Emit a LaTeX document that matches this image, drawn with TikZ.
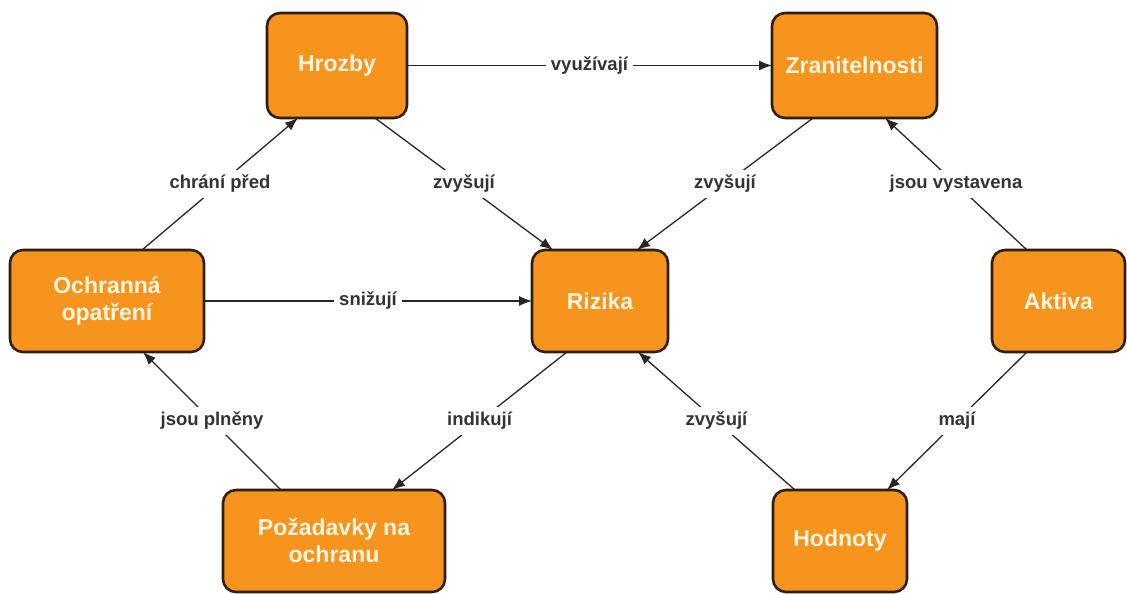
\documentclass[tikz,border=0pt]{standalone}
\usepackage{fontspec}
\setmainfont{Liberation Sans}
\usetikzlibrary{arrows.meta}
\definecolor{boxfill}{HTML}{F7941D}
\definecolor{boxline}{HTML}{2E1E0A}
\definecolor{boxtext}{HTML}{FFF6E2}
\definecolor{linecol}{HTML}{262626}
\definecolor{labcol}{HTML}{333333}
\tikzset{
  box/.style={draw=boxline, line width=2.6pt, fill=boxfill, rounded corners=13pt,
    text=boxtext, font=\fontsize{23}{27}\selectfont\bfseries, align=center,
    inner sep=0pt, outer sep=0pt},
  arr/.style={draw=linecol, line width=1.3pt, -{Latex[length=13pt,width=10pt]}},
  lab/.style={fill=white, text=labcol, font=\fontsize{18.5}{22}\selectfont\bfseries,
    inner sep=5pt, midway}
}
\begin{document}
\begin{tikzpicture}[x=1pt,y=-1pt]
\useasboundingbox (0,0) rectangle (1127,594);
\node[box, minimum width=140pt, minimum height=105pt] (hro) at (337,65.5) {Hrozby};
\node[box, minimum width=165pt, minimum height=105pt] (zra) at (854.5,65.5) {Zranitelnosti};
\node[box, minimum width=194pt, minimum height=102pt] (och) at (107,301) {Ochranná\\opatření};
\node[box, minimum width=136pt, minimum height=102pt] (riz) at (600,301) {Rizika};
\node[box, minimum width=133pt, minimum height=102pt] (akt) at (1058.5,301) {Aktiva};
\node[box, minimum width=222pt, minimum height=102pt] (poz) at (334,541) {Požadavky na\\ochranu};
\node[box, minimum width=134pt, minimum height=102pt] (hod) at (840,541) {Hodnoty};

\draw[arr] (hro) -- node[lab]{využívají} (zra);
\draw[arr] ([xshift=35pt]och.north) -- node[lab]{chrání před} ([xshift=-39pt]hro.south);
\draw[arr] ([xshift=38pt]hro.south) -- node[lab]{zvyšují} ([xshift=-47pt]riz.north);
\draw[arr] ([xshift=-41.5pt]zra.south) -- node[lab]{zvyšují} ([xshift=37pt]riz.north);
\draw[arr] ([xshift=-31.5pt]akt.north) -- node[lab]{jsou vystavena} ([xshift=30.5pt]zra.south);
\draw[arr] (och) -- node[lab]{snižují} (riz);
\draw[arr] ([xshift=-53pt]poz.north) -- node[lab]{jsou plněny} ([xshift=36pt]och.south);
\draw[arr] ([xshift=-33pt]riz.south) -- node[lab]{indikují} ([xshift=58pt]poz.north);
\draw[arr] ([xshift=-45pt]hod.north) -- node[lab]{zvyšují} ([xshift=38pt]riz.south);
\draw[arr] ([xshift=-31.5pt]akt.south) -- node[lab]{mají} ([xshift=47pt]hod.north);
\end{tikzpicture}
\end{document}
